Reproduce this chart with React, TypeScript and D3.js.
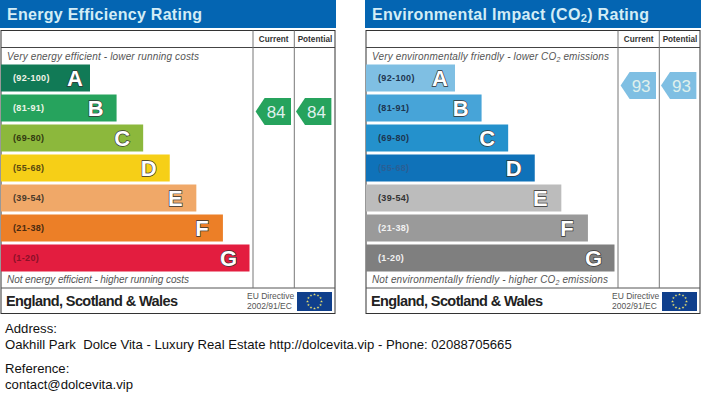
import React from "react";
import * as d3 from "d3";

const letters = ["A", "B", "C", "D", "E", "F", "G"];
const ranges = ["(92-100)", "(81-91)", "(69-80)", "(55-68)", "(39-54)", "(21-38)", "(1-20)"];
const energyColors = ["#117a56", "#26a35d", "#8cb83c", "#f6cf17", "#f0a868", "#ec7f27", "#e31d3f"];
const envColors = ["#7fbfe3", "#47a4d8", "#2491cc", "#0f72b9", "#bcbcbc", "#9a9a9a", "#7f7f7f"];
const energyRangeText = ["#f4f4e8", "#eef6e8", "#333a10", "#5a4a10", "#4a3a2a", "#4a2a10", "#8a1028"];
const envRangeText = ["#1d3550", "#1d3550", "#1d3550", "#2a5f95", "#333333", "#f2f2f2", "#f2f2f2"];
const energyScores = [84, 84];
const envScores = [93, 93];
const scoreHeads = ["Current", "Potential"];
const addressLines = ["Address:", "Oakhill Park  Dolce Vita - Luxury Real Estate http://dolcevita.vip - Phone: 02088705665", "Reference:", "contact@dolcevita.vip"];
const addressBaselines = [333, 349, 373, 389];

const sans = "'Liberation Sans', Arial, sans-serif";
const W = 706, H = 395;

const yBand = d3.scaleBand<string>().domain(letters).range([64.5, 271.5]).paddingInner(0.1).paddingOuter(0);
const rank = d3.scaleLinear().domain([0, 6]);
const scoreY = d3.scaleLinear().domain([93, 84]).range([85.5, 111.5]);
const arrowPath = d3.line();

function Flag({ x, y }: { x: number; y: number }) {
  const w = 35, h = 19;
  const star = d3.symbol(d3.symbolStar, 2.4)() as string;
  const angle = d3.scaleLinear().domain([0, 12]).range([0, 2 * Math.PI]);
  return (
    <g transform={`translate(${x},${y})`}>
      <rect width={w} height={h} fill="#0f3f8c" />
      {d3.range(12).map((i) => (
        <path key={i} d={star} fill="#e8e070"
          transform={`translate(${w / 2 + 7 * Math.sin(angle(i))},${h / 2 - 7 * Math.cos(angle(i))})`} />
      ))}
    </g>
  );
}

function Panel({ x0, title, titleLen, titleNode, top, bottom, topLen, bottomLen, colors, rangeText, scores }: any) {
  const x = rank.copy().range([x0 + 89, x0 + 248.5]);
  const col1 = x0 + 252, col2 = x0 + 293.3, right = x0 + 334;
  const cols = [col1, col2];
  const colW = 41.3;
  return (
    <g>
      <rect x={x0 - 1} y={0} width={336} height={28} fill="#0465b2" />
      <text x={x0 + 6} y={20} fontFamily={sans} fontWeight="bold" fontSize={16} fill="#d3edf6" textLength={titleLen} lengthAdjust="spacing">{titleNode ?? title}</text>
      <rect x={x0} y={30.5} width={right - x0} height={283} fill="#fff" stroke="#333" strokeWidth={1} />
      <line x1={x0} x2={right} y1={47.5} y2={47.5} stroke="#444" />
      <line x1={x0} x2={right} y1={288} y2={288} stroke="#555" />
      {cols.map((c) => <line key={c} x1={c} x2={c} y1={30.5} y2={288} stroke="#777" strokeWidth={1} />)}
      {scoreHeads.map((s, i) => (
        <text key={s} x={cols[i] + colW / 2} y={42} textAnchor="middle" fontFamily={sans} fontWeight="bold" fontSize={8.2} fill="#333">{s}</text>
      ))}
      <text x={x0 + 6} y={60} fontFamily={sans} fontStyle="italic" fontSize={10} fill="#555" textLength={topLen} lengthAdjust="spacing">{top}</text>
      <text x={x0 + 6} y={283} fontFamily={sans} fontStyle="italic" fontSize={10} fill="#555" textLength={bottomLen} lengthAdjust="spacing">{bottom}</text>
      {letters.map((l, i) => {
        const y = yBand(l)!, h = yBand.bandwidth();
        return (
          <g key={l}>
            <rect x={x0} y={y} width={x(i) - x0} height={h} fill={colors[i]} />
            <text x={x0 + 12} y={y + h / 2 + 3} fontFamily={sans} fontWeight="bold" fontSize={9} letterSpacing={0.35} fill={rangeText[i]}>{ranges[i]}</text>
            <text x={x(i) - (i === 0 ? 15 : 21)} y={y + h / 2 + 7.5} textAnchor="middle" fontFamily={sans} fontWeight="bold" fontSize={22}
              fill="#fff" stroke="#333" strokeWidth={1.3} style={{ paintOrder: "stroke" }}>{l}</text>
          </g>
        );
      })}
      {scores.map((v: number, i: number) => {
        const cy = scoreY(v), left = cols[i] + (i ? 1.7 : 2.6), end = left + 35.4;
        const d = arrowPath([[left, cy], [left + 9, cy - 13.5], [end, cy - 13.5], [end, cy + 13.5], [left + 9, cy + 13.5]]) + "Z";
        const c = colors[letters.indexOf(v >= 92 ? "A" : "B")];
        return (
          <g key={i}>
            <path d={d} fill={c} />
            <text x={left + 20.5} y={cy + 6} textAnchor="middle" fontFamily={sans} fontSize={17} fill="#dff0ec">{v}</text>
          </g>
        );
      })}
      <text x={x0 + 5} y={306} fontFamily={sans} fontWeight="bold" fontSize={14.5} fill="#222" textLength={172} lengthAdjust="spacing">England, Scotland &amp; Wales</text>
      <text x={x0 + 246} y={299} fontFamily={sans} fontSize={8.5} fill="#555">EU Directive</text>
      <text x={x0 + 246} y={309} fontFamily={sans} fontSize={8.5} fill="#555">2002/91/EC</text>
      <Flag x={x0 + 296} y={292} />
    </g>
  );
}

const sub = (s: string) => <tspan dy={2} fontSize="0.7em">{s}</tspan>;

export default function App() {
  return (
    <svg width={W} height={H} viewBox={`0 0 ${W} ${H}`} style={{ position: "absolute", left: 0, top: 0, background: "#fff" }}>
      <Panel x0={1} title="Energy Efficiency Rating" titleLen={195}
        top="Very energy efficient - lower running costs" topLen={192}
        bottom="Not energy efficient - higher running costs" bottomLen={182}
        colors={energyColors} rangeText={energyRangeText} scores={energyScores} />
      <Panel x0={366} titleLen={277}
        titleNode={<>Environmental Impact (CO{sub("2")}<tspan dy={-2}>) Rating</tspan></>}
        top={<>Very environmentally friendly - lower CO{sub("2")}<tspan dy={-2}> emissions</tspan></>} topLen={237}
        bottom={<>Not environmentally friendly - higher CO{sub("2")}<tspan dy={-2}> emissions</tspan></>} bottomLen={236}
        colors={envColors} rangeText={envRangeText} scores={envScores} />
      {addressLines.map((t, i) => (
        <text key={i} x={5} y={addressBaselines[i]} fontFamily={sans} fontSize={13.15} fill="#111" style={{ whiteSpace: "pre" }}>{t}</text>
      ))}
    </svg>
  );
}
